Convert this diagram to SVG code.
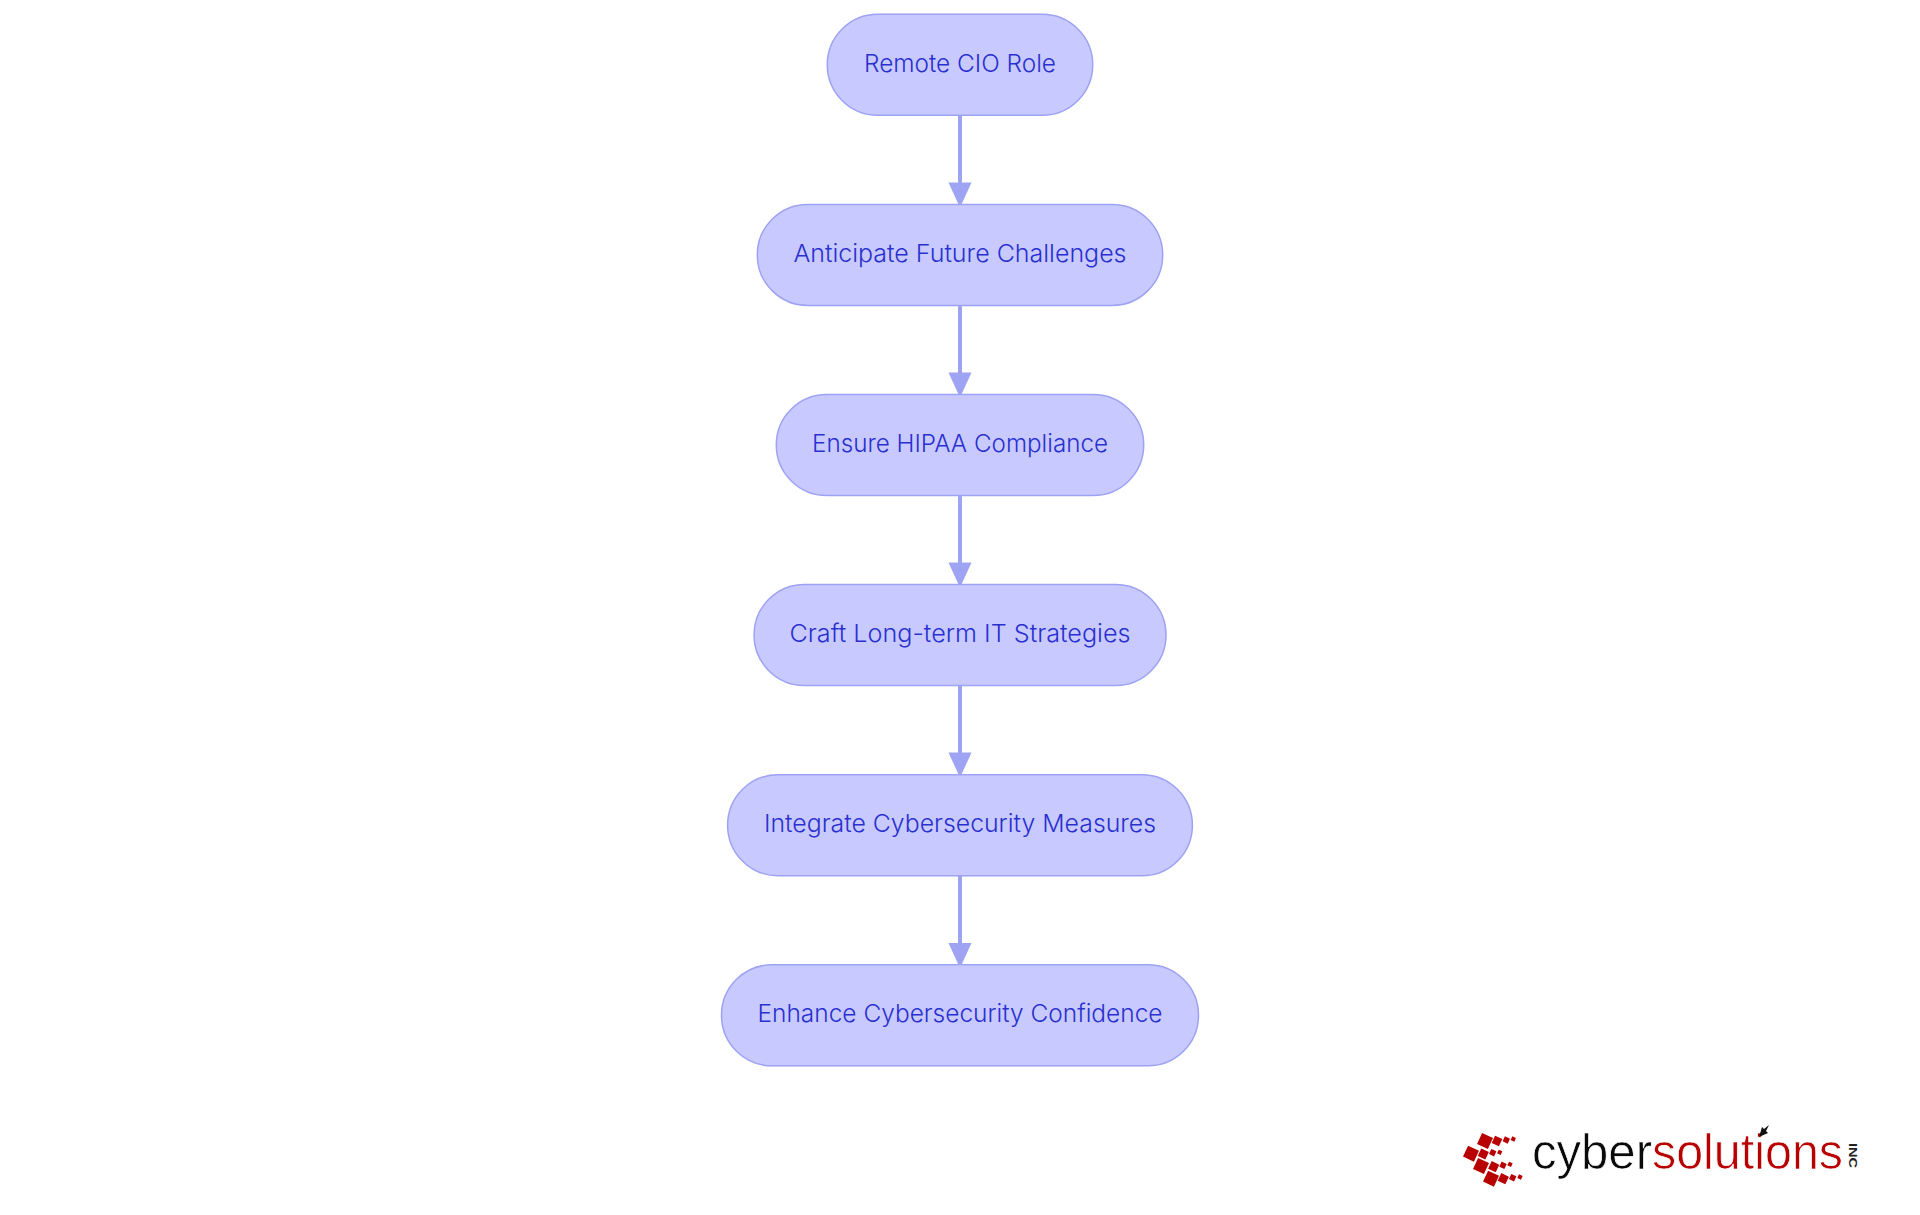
<svg xmlns="http://www.w3.org/2000/svg" width="1920" height="1215" viewBox="0 0 1920 1215">
<style>
.n{fill:#c8caff;stroke:#9ea2f4;stroke-width:1.5}
.t{font-family:"Inter","Noto Sans",sans-serif;font-size:24.500px;font-weight:300;fill:#2a30d0;text-anchor:middle}
.c{stroke:#9fa3f4;stroke-width:4;fill:none}
.h{fill:#9fa3f4}
.sq{fill:#b80000}
.lg{font-family:"Liberation Sans",sans-serif;font-size:50px;stroke:#fff;stroke-width:.7}
</style>
<defs><path id="ah" class="h" d="M-11.500 -21.500H11.500L1 1.500H-1Z"/></defs>
<rect width="1920" height="1215" fill="#fff"/>
<g id="connectors">
<path class="c" d="M960 115V190"/><use href="#ah" x="960" y="204"/>
<path class="c" d="M960 305V380"/><use href="#ah" x="960" y="394"/>
<path class="c" d="M960 495V570"/><use href="#ah" x="960" y="584"/>
<path class="c" d="M960 685V760"/><use href="#ah" x="960" y="774"/>
<path class="c" d="M960 875V950"/><use href="#ah" x="960" y="964.500"/>
</g>
<g id="n1"><rect class="n" x="827.300" y="14.300" width="265.400" height="101" rx="50.500" ry="50.500"/><text class="t" x="960" y="71.800" textLength="192" lengthAdjust="spacingAndGlyphs">Remote CIO Role</text></g>
<g id="n2"><rect class="n" x="757.300" y="204.400" width="405.400" height="101" rx="50.500" ry="50.500"/><text class="t" x="960" y="261.900" textLength="333" lengthAdjust="spacingAndGlyphs">Anticipate Future Challenges</text></g>
<g id="n3"><rect class="n" x="776.300" y="394.500" width="367.400" height="101" rx="50.500" ry="50.500"/><text class="t" x="960" y="452" textLength="296" lengthAdjust="spacingAndGlyphs">Ensure HIPAA Compliance</text></g>
<g id="n4"><rect class="n" x="754" y="584.500" width="412" height="101" rx="50.500" ry="50.500"/><text class="t" x="960" y="641.800" textLength="341" lengthAdjust="spacingAndGlyphs">Craft Long-term IT Strategies</text></g>
<g id="n5"><rect class="n" x="727.600" y="774.700" width="464.800" height="101" rx="50.500" ry="50.500"/><text class="t" x="960" y="831.900" textLength="392" lengthAdjust="spacingAndGlyphs">Integrate Cybersecurity Measures</text></g>
<g id="n6"><rect class="n" x="721.500" y="964.800" width="477" height="101" rx="50.500" ry="50.500"/><text class="t" x="960" y="1021.900" textLength="405" lengthAdjust="spacingAndGlyphs">Enhance Cybersecurity Confidence</text></g>
<g id="logo">
<g class="sq">
<rect x="-6" y="-6" width="12" height="12" transform="translate(1485 1141) rotate(25)"/>
<rect x="-4" y="-4" width="8" height="8" transform="translate(1497 1141) rotate(25)"/>
<rect x="-2.800" y="-2.800" width="5.600" height="5.600" transform="translate(1506.300 1140) rotate(25)"/>
<rect x="-2" y="-2" width="4" height="4" transform="translate(1513.300 1139) rotate(25)"/>
<rect x="-6" y="-6" width="12" height="12" transform="translate(1471 1153.700) rotate(25)"/>
<rect x="-4.200" y="-4.200" width="8.400" height="8.400" transform="translate(1483.300 1154) rotate(25)"/>
<rect x="-2.800" y="-2.800" width="5.600" height="5.600" transform="translate(1492.700 1152.700) rotate(25)"/>
<rect x="-2" y="-2" width="4" height="4" transform="translate(1499.700 1152.300) rotate(25)"/>
<rect x="-6" y="-6" width="12" height="12" transform="translate(1481 1166) rotate(25)"/>
<rect x="-4.200" y="-4.200" width="8.400" height="8.400" transform="translate(1493.700 1166.700) rotate(25)"/>
<rect x="-2.800" y="-2.800" width="5.600" height="5.600" transform="translate(1503 1165.300) rotate(25)"/>
<rect x="-2" y="-2" width="4" height="4" transform="translate(1510 1164.300) rotate(25)"/>
<rect x="-6" y="-6" width="12" height="12" transform="translate(1491 1178.700) rotate(25)"/>
<rect x="-4.200" y="-4.200" width="8.400" height="8.400" transform="translate(1503.300 1178.700) rotate(25)"/>
<rect x="-2.800" y="-2.800" width="5.600" height="5.600" transform="translate(1512.700 1177.700) rotate(25)"/>
<rect x="-2" y="-2" width="4" height="4" transform="translate(1520 1177) rotate(25)"/>
</g>
<text class="lg" x="1532" y="1169" fill="#0a0a0a" textLength="120" lengthAdjust="spacingAndGlyphs">cyber</text>
<text class="lg" x="1652" y="1169" fill="#b80000" textLength="191" lengthAdjust="spacingAndGlyphs">solutions</text>
<text font-family="'Liberation Sans',sans-serif" font-size="10" font-weight="700" fill="#222" transform="translate(1849 1143) rotate(90)" textLength="25" lengthAdjust="spacingAndGlyphs">INC</text>
<path d="M1759 1137L1762 1127L1764 1129L1769 1125L1766 1131L1768 1133Z" fill="#111"/>
</g>
</svg>
